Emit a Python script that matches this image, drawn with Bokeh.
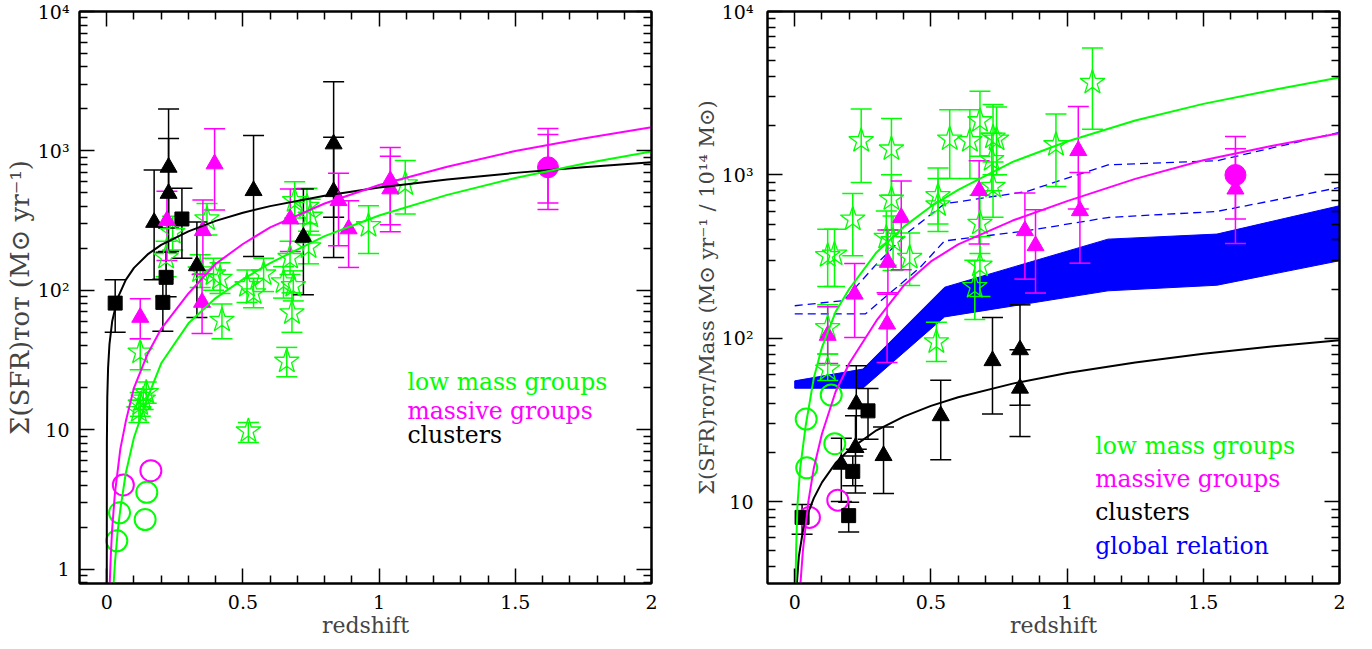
import numpy as np
from bokeh.plotting import figure
from bokeh.layouts import row
from bokeh.models import Range1d, FixedTicker, LinearAxis, LogAxis, Label
from bokeh.embed import file_html
from bokeh.resources import INLINE

FONT = "DejaVu Serif"
GREEN, MAGENTA, BLACK, BLUE = "#00ff00", "#ff00ff", "#000000", "#0000ff"

# ---------------- axes ----------------
X_TICKS = [0, 0.5, 1, 1.5, 2]
X_TICK_LABELS = ["0", "0.5", "1", "1.5", "2"]
X_MINOR = [0.1, 0.2, 0.3, 0.4, 0.6, 0.7, 0.8, 0.9, 1.1, 1.2, 1.3, 1.4, 1.6, 1.7, 1.8, 1.9]
L_Y_TICKS = [1, 10, 100, 1000, 10000]
L_Y_TICK_LABELS = ["1", "10", "10²", "10³", "10⁴"]
R_Y_TICKS = [10, 100, 1000, 10000]
R_Y_TICK_LABELS = ["10", "10²", "10³", "10⁴"]

# ---------------- left panel data ----------------
L_star_z = [0.123, 0.123, 0.118, 0.134, 0.145, 0.218, 0.242, 0.368, 0.343, 0.392, 0.416, 0.423, 0.515, 0.539,
            0.576, 0.649, 0.685, 0.680, 0.661, 0.520, 0.690, 0.735, 0.747, 0.673, 0.741, 0.961, 1.096]
L_star_v = [36, 15.3, 13.7, 16.6, 18.5, 172, 260, 325, 138, 131, 122, 61, 108, 96,
            131, 115, 108, 69, 31, 9.8, 440, 400, 340, 172, 205, 291, 580]
L_star_lo = [27, 12.5, 11.3, 14, 15.5, 125, 195, 250, 105, 100, 95, 45, 82, 75,
             98, 88, 84, 50, 24, 8.1, 330, 300, 250, 130, 155, 184, 353]
L_star_hi = [45, 18.5, 16.3, 19.5, 22, 225, 340, 420, 180, 170, 158, 80, 140, 122,
             170, 148, 138, 96, 39, 11.3, 600, 540, 450, 225, 265, 405, 853]

L_gcirc_z = [0.037, 0.047, 0.147, 0.141]
L_gcirc_v = [1.6, 2.54, 3.56, 2.27]
L_mcirc_open_z = [0.061, 0.162]
L_mcirc_open_v = [4.02, 5.09]

L_bsq_z = [0.031, 0.206, 0.218, 0.276]
L_bsq_v = [81, 82, 124, 325]
L_bsq_lo = [50, 51, 90, 170]
L_bsq_hi = [119, 120, 188, 540]

L_btri_z = [0.174, 0.227, 0.227, 0.331, 0.539, 0.722, 0.833, 0.833]
L_btri_v = [307, 763, 496, 150, 519, 240, 1122, 510]
L_btri_lo = [119, 280, 190, 64, 175, 93, 334, 172]
L_btri_hi = [731, 2000, 1230, 309, 1290, 534, 3140, 1253]

L_mtri_z = [0.123, 0.221, 0.353, 0.350, 0.396, 0.674, 0.851, 0.888, 1.041, 1.041, 1.62]
L_mtri_v = [64, 316, 268, 82, 807, 325, 440, 276, 612, 534, 763]
L_mtri_lo = [45, 164, 131, 49, 377, 190, 209, 146, 296, 263, 423]
L_mtri_hi = [87, 513, 445, 130, 1440, 534, 691, 440, 1060, 915, 1310]

L_mcirc_z = [1.62]
L_mcirc_v = [763]
L_mcirc_lo = [380]
L_mcirc_hi = [1450]

L_black_curve_z = [0.0, 0.0005, 0.002, 0.005, 0.01, 0.02, 0.04, 0.07, 0.1, 0.15, 0.2, 0.3, 0.4, 0.5, 0.6,
                   0.8, 1.0, 1.25, 1.5, 1.75, 2.0]
L_black_curve_v = [0.5, 7.9, 17, 28, 41, 60, 88, 119, 145, 181, 212, 265, 315, 360, 402,
                   477, 546, 624, 696, 764, 830]
L_mag_curve_z = [0.01, 0.015, 0.02, 0.03, 0.05, 0.07, 0.1, 0.15, 0.2, 0.3, 0.4, 0.5, 0.6, 0.8, 1.0,
                 1.25, 1.5, 1.75, 2.0]
L_mag_curve_v = [0.7, 1.26, 1.95, 3.5, 7.3, 11.5, 20, 35, 53, 95, 155, 215, 283, 420, 570,
                 770, 1000, 1230, 1476]
L_grn_curve_z = [0.015, 0.02, 0.03, 0.04, 0.05, 0.07, 0.1, 0.15, 0.2, 0.3, 0.4, 0.5, 0.6, 0.8, 1.0,
                 1.25, 1.5, 1.75, 2.0]
L_grn_curve_v = [0.36, 0.55, 1.1, 1.85, 2.7, 4.9, 8.8, 17, 30, 58, 88, 120, 157, 245, 344,
                 484, 640, 810, 990]

L_LEGEND = ["low mass groups", "massive groups", "clusters"]
L_LEGEND_COLORS = [GREEN, MAGENTA, BLACK]

# ---------------- right panel data ----------------
R_star_z = [0.121, 0.146, 0.213, 0.244, 0.355, 0.355, 0.336, 0.361, 0.422, 0.526, 0.526, 0.569, 0.643,
            0.680, 0.728, 0.741, 0.723, 0.728, 0.680, 0.680, 0.661, 0.520, 0.121, 0.121, 0.959, 1.093]
R_star_v = [320, 327, 536, 1618, 1439, 711, 414, 395, 312, 745, 655, 1656, 1618,
            2144, 1700, 1655, 1240, 850, 505, 280, 207, 95, 116, 64.7, 1528, 3682]
R_star_lo = [207, 207, 320, 898, 750, 460, 280, 260, 210, 500, 450, 950, 950,
             1300, 1000, 1000, 800, 550, 330, 180, 130, 72, 80, 55, 849, 1905]
R_star_hi = [465, 465, 769, 2529, 2213, 1000, 600, 560, 440, 1100, 950, 2500, 2500,
             3250, 2700, 2600, 1800, 1200, 750, 420, 300, 125, 160, 80, 2357, 5970]

R_gcirc_z = [0.042, 0.044, 0.134, 0.147]
R_gcirc_v = [32, 16.1, 44.9, 22.6]
R_mcirc_open_z = [0.054, 0.158]
R_mcirc_open_v = [8.0, 10.2]

R_bsq_z = [0.027, 0.198, 0.213, 0.269]
R_bsq_v = [8.0, 8.2, 15.3, 35.9]
R_bsq_lo = [6.3, 6.5, 12.5, 24.1]
R_bsq_hi = [9.6, 9.9, 19.0, 49.2]

R_btri_z = [0.171, 0.223, 0.226, 0.326, 0.536, 0.726, 0.827, 0.827]
R_btri_v = [16.9, 21.4, 39.5, 19.1, 33.5, 72.8, 84.9, 49.4]
R_btri_lo = [10.0, 11.3, 20.9, 11.2, 18.0, 34.3, 38.9, 25.0]
R_btri_hi = [24.4, 33.5, 67.8, 28.6, 55.3, 134, 160, 85]

R_mtri_z = [0.121, 0.220, 0.342, 0.339, 0.391, 0.677, 0.845, 0.884, 1.041, 1.047, 1.618]
R_mtri_v = [104, 186, 291, 122, 548, 800, 455, 368, 1407, 603, 818]
R_mtri_lo = [70, 101, 186, 71, 262, 377, 230, 189, 617, 288, 380]
R_mtri_hi = [156, 287, 459, 190, 918, 1222, 774, 611, 2624, 1035, 1445]

R_mcirc_z = [1.618]
R_mcirc_v = [998]
R_mcirc_lo = [536]
R_mcirc_hi = [1718]

R_band_z = [0.0, 0.25, 0.55, 1.15, 1.55, 2.0]
R_band_lo = [49.4, 49.4, 135, 195, 211, 298]
R_band_hi = [54.8, 64.7, 205, 404, 434, 647]

R_dash_up_z = [0.0, 0.18, 0.3, 0.42, 0.55, 0.85, 1.15, 1.55, 2.0]
R_dash_up_v = [158, 170, 284, 450, 665, 790, 1150, 1220, 1820]
R_dash_lo_z = [0.0, 0.26, 0.46, 0.55, 0.85, 1.15, 1.55, 2.0]
R_dash_lo_v = [141, 141, 271, 394, 454, 548, 597, 837]

R_black_curve_z = [0.004, 0.008, 0.015, 0.03, 0.05, 0.07, 0.1, 0.15, 0.2, 0.3, 0.4, 0.5, 0.6, 0.8, 1.0,
                   1.25, 1.5, 1.75, 2.0]
R_black_curve_v = [2.0, 3.2, 4.6, 6.6, 8.6, 10.5, 13.1, 17.2, 20.8, 27.3, 33.1, 38.5, 43.5, 52.7, 61.2,
                   71, 80.3, 89, 97.3]
R_mag_curve_z = [0.01, 0.015, 0.02, 0.03, 0.05, 0.07, 0.1, 0.15, 0.2, 0.3, 0.4, 0.5, 0.6, 0.8, 1.0,
                 1.25, 1.5, 1.75, 2.0]
R_mag_curve_v = [1.3, 2.2, 3.0, 5.0, 10, 16, 26, 47, 70, 128, 210, 295, 375, 525, 690,
                 945, 1230, 1500, 1795]
R_grn_curve_z = [0.002, 0.005, 0.01, 0.02, 0.04, 0.07, 0.1, 0.15, 0.2, 0.3, 0.4, 0.5, 0.6, 0.8, 1.0,
                 1.25, 1.5, 1.75, 2.0]
R_grn_curve_v = [2.5, 5.0, 9.5, 16, 29, 57, 88, 145, 200, 335, 480, 640, 810, 1200, 1600,
                 2150, 2720, 3300, 3950]

R_LEGEND = ["low mass groups", "massive groups", "clusters", "global relation"]
R_LEGEND_COLORS = [GREEN, MAGENTA, BLACK, BLUE]


def minor_log(lo_exp, hi_exp, extra=()):
    return list(extra) + [m * 10.0 ** e for e in range(lo_exp, hi_exp) for m in range(2, 10)]


def style_axis(ax, label_size="19px", standoff=11):
    ax.major_tick_in = 15
    ax.major_tick_out = 0
    ax.minor_tick_in = 8
    ax.minor_tick_out = 0
    ax.axis_line_width = 2
    ax.major_tick_line_width = 1.5
    ax.minor_tick_line_width = 1.5
    ax.major_label_text_font = FONT
    ax.major_label_text_font_size = label_size
    ax.major_label_text_color = "black"
    ax.major_label_standoff = standoff


def make_panel(bl, br, y_start, y_ticks, y_labels, y_minor, ylabel, ylabel_size, y_standoff):
    p = figure(frame_width=572, frame_height=572, x_range=Range1d(-0.1, 2.0), y_range=Range1d(y_start, 1e4),
               y_axis_type="log", output_backend="svg", toolbar_location=None,
               min_border_left=bl, min_border_right=br, min_border_top=11, min_border_bottom=66)
    p.grid.visible = False
    p.outline_line_color = "black"
    p.outline_line_width = 2
    xt = FixedTicker(ticks=X_TICKS, minor_ticks=X_MINOR)
    yt = FixedTicker(ticks=y_ticks, minor_ticks=y_minor)
    xa = p.xaxis[0]
    ya = p.yaxis[0]
    xa.ticker = xt
    ya.ticker = yt
    xa.major_label_overrides = dict(zip(X_TICKS, X_TICK_LABELS))
    ya.major_label_overrides = dict(zip(y_ticks, y_labels))
    style_axis(xa, "19px", 11)
    style_axis(ya, "19px", y_standoff)
    xa.axis_label = "redshift"
    xa.axis_label_text_font = FONT
    xa.axis_label_text_font_style = "normal"
    xa.axis_label_text_font_size = "22px"
    xa.axis_label_standoff = 1
    ya.axis_label = ylabel
    ya.axis_label_text_font = FONT
    ya.axis_label_text_font_style = "normal"
    ya.axis_label_text_font_size = ylabel_size
    ya.axis_label_standoff = 0
    top = LinearAxis(ticker=xt)
    right = LogAxis(ticker=yt)
    for ax, ticks in ((top, X_TICKS), (right, y_ticks)):
        style_axis(ax, "0px", 0)
        ax.major_label_overrides = {t: "" for t in ticks}
    p.add_layout(top, "above")
    p.add_layout(right, "right")
    return p


def errbars(p, x, lo, hi, color):
    p.segment(x0=x, y0=lo, x1=x, y1=hi, line_color=color, line_width=1.5)
    p.scatter(x=list(x) + list(x), y=list(lo) + list(hi), marker="dash", size=21,
              line_color=color, line_width=1.5)


def curve(p, z, v, color):
    p.line(z, v, line_color=color, line_width=2)


def legend(p, x, ys, texts, colors):
    for y, t, c in zip(ys, texts, colors):
        p.add_layout(Label(x=x, y=y, text=t, text_color=c, text_font=FONT, text_font_size="23.5px",
                           text_baseline="middle", text_align="left"))


# ---------------- left figure ----------------
p1 = make_panel(79, 37, 0.79, L_Y_TICKS, L_Y_TICK_LABELS, minor_log(0, 4, extra=(0.8, 0.9)),
                "Σ(SFR)ᴛᴏᴛ (M⊙ yr⁻¹)", "26px", 10)

errbars(p1, L_star_z, L_star_lo, L_star_hi, GREEN)
errbars(p1, L_bsq_z, L_bsq_lo, L_bsq_hi, BLACK)
errbars(p1, L_btri_z, L_btri_lo, L_btri_hi, BLACK)
errbars(p1, L_mtri_z, L_mtri_lo, L_mtri_hi, MAGENTA)
errbars(p1, L_mcirc_z, L_mcirc_lo, L_mcirc_hi, MAGENTA)
p1.scatter(L_star_z, L_star_v, marker="star", size=26, fill_color=None, line_color=GREEN, line_width=1.3)
p1.scatter(L_gcirc_z, L_gcirc_v, marker="circle", size=21, fill_color=None, line_color=GREEN, line_width=2)
p1.scatter(L_mcirc_open_z, L_mcirc_open_v, marker="circle", size=21, fill_color=None, line_color=MAGENTA, line_width=2)
p1.scatter(L_bsq_z, L_bsq_v, marker="square", size=14, fill_color=BLACK, line_color=BLACK)
p1.scatter(L_btri_z, L_btri_v, marker="triangle", size=17, fill_color=BLACK, line_color=BLACK)
p1.scatter(L_mtri_z, L_mtri_v, marker="triangle", size=17, fill_color=MAGENTA, line_color=MAGENTA)
p1.scatter(L_mcirc_z, L_mcirc_v, marker="circle", size=21, fill_color=MAGENTA, line_color=MAGENTA)
curve(p1, L_black_curve_z, L_black_curve_v, BLACK)
curve(p1, L_mag_curve_z, L_mag_curve_v, MAGENTA)
curve(p1, L_grn_curve_z, L_grn_curve_v, GREEN)
legend(p1, 1.104, [22.1, 13.7, 9.2], L_LEGEND, L_LEGEND_COLORS)

# ---------------- right figure ----------------
p2 = make_panel(79, 33, 3.15, R_Y_TICKS, R_Y_TICK_LABELS, minor_log(1, 4, extra=(4, 5, 6, 7, 8, 9)),
                "Σ(SFR)ᴛᴏᴛ/Mass (M⊙ yr⁻¹ / 10¹⁴ M⊙)", "21px", 14)

p2.patch(R_band_z + R_band_z[::-1], R_band_hi + R_band_lo[::-1], fill_color=BLUE, line_color=BLUE, line_width=1)
p2.line(R_dash_up_z, R_dash_up_v, line_color=BLUE, line_width=1.3, line_dash="8 5")
p2.line(R_dash_lo_z, R_dash_lo_v, line_color=BLUE, line_width=1.3, line_dash="8 5")
errbars(p2, R_star_z, R_star_lo, R_star_hi, GREEN)
errbars(p2, R_bsq_z, R_bsq_lo, R_bsq_hi, BLACK)
errbars(p2, R_btri_z, R_btri_lo, R_btri_hi, BLACK)
errbars(p2, R_mtri_z, R_mtri_lo, R_mtri_hi, MAGENTA)
errbars(p2, R_mcirc_z, R_mcirc_lo, R_mcirc_hi, MAGENTA)
p2.scatter(R_star_z, R_star_v, marker="star", size=26, fill_color=None, line_color=GREEN, line_width=1.3)
p2.scatter(R_gcirc_z, R_gcirc_v, marker="circle", size=21, fill_color=None, line_color=GREEN, line_width=2)
p2.scatter(R_mcirc_open_z, R_mcirc_open_v, marker="circle", size=21, fill_color=None, line_color=MAGENTA, line_width=2)
p2.scatter(R_bsq_z, R_bsq_v, marker="square", size=14, fill_color=BLACK, line_color=BLACK)
p2.scatter(R_btri_z, R_btri_v, marker="triangle", size=17, fill_color=BLACK, line_color=BLACK)
p2.scatter(R_mtri_z, R_mtri_v, marker="triangle", size=17, fill_color=MAGENTA, line_color=MAGENTA)
p2.scatter(R_mcirc_z, R_mcirc_v, marker="circle", size=21, fill_color=MAGENTA, line_color=MAGENTA)
curve(p2, R_black_curve_z, R_black_curve_v, BLACK)
curve(p2, R_mag_curve_z, R_mag_curve_v, MAGENTA)
curve(p2, R_grn_curve_z, R_grn_curve_v, GREEN)
legend(p2, 1.103, [21.9, 13.8, 8.65, 5.36], R_LEGEND, R_LEGEND_COLORS)

layout = row(p1, p2)
open("out.html", "w").write(file_html(layout, INLINE))
